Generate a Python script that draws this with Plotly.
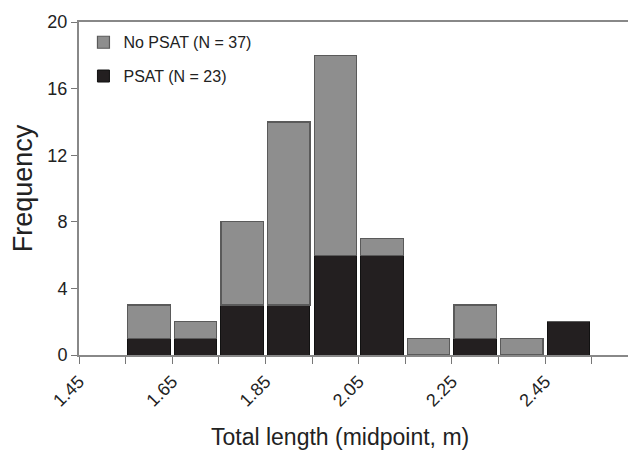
import plotly.graph_objects as go

midpoints = [1.60, 1.70, 1.80, 1.90, 2.00, 2.10, 2.20, 2.30, 2.40, 2.50]
psat = [1, 1, 3, 3, 6, 6, 0, 1, 0, 2]
no_psat = [2, 1, 5, 11, 12, 1, 1, 2, 1, 0]
tick_vals = [1.45, 1.55, 1.65, 1.75, 1.85, 1.95, 2.05, 2.15, 2.25, 2.35, 2.45, 2.55]
tick_text = ["1.45", "", "1.65", "", "1.85", "", "2.05", "", "2.25", "", "2.45", ""]
y_ticks = [0, 4, 8, 12, 16, 20]

fig = go.Figure()
fig.add_trace(go.Bar(
    x=midpoints, y=psat, name="PSAT (N = 23)", width=0.091,
    marker=dict(color="#231f20", line=dict(color="#111111", width=1)),
    legendgroup="b", legendrank=2,
))
fig.add_trace(go.Bar(
    x=midpoints, y=no_psat, name="No PSAT (N = 37)", width=0.091,
    marker=dict(color="#8e8e8e", line=dict(color="#5a5a5a", width=1.2)),
    legendgroup="a", legendrank=1,
))

fig.update_layout(
    barmode="stack",
    width=628, height=443,
    margin=dict(l=71, r=0, t=14, b=96),
    paper_bgcolor="white", plot_bgcolor="white",
    font=dict(family="Liberation Sans, Arial, sans-serif", color="#222222"),
    showlegend=True,
    legend=dict(
        x=0.008, y=0.99, xanchor="left", yanchor="top",
        font=dict(size=16, color="#222222"),
        bgcolor="rgba(0,0,0,0)",
        traceorder="grouped", tracegroupgap=10,
        itemwidth=30,
    ),
    xaxis=dict(
        range=[1.45, 2.645],
        automargin=False,
        tickmode="array", tickvals=tick_vals, ticktext=tick_text,
        tickangle=-45,
        ticks="outside", ticklen=7, tickcolor="#777777",
        showline=True, linecolor="#888888", linewidth=2,
        mirror=True,
        showgrid=False, zeroline=False,
        tickfont=dict(size=18, color="#222222"),
    ),
    yaxis=dict(
        range=[0, 20],
        automargin=False,
        tickmode="array", tickvals=y_ticks,
        ticks="outside", ticklen=6, tickcolor="#777777",
        showline=True, linecolor="#888888", linewidth=2,
        showgrid=False, zeroline=False,
        tickfont=dict(size=18, color="#222222"),
        title=dict(text="Frequency", font=dict(size=27, color="#222222"), standoff=10),
    ),
    annotations=[dict(
        text="Total length (midpoint, m)", xref="paper", yref="paper",
        x=0.469, y=-0.246, xanchor="center", yanchor="middle", showarrow=False,
        font=dict(size=23, color="#222222"),
    )],
)

fig.write_html("out.html")
